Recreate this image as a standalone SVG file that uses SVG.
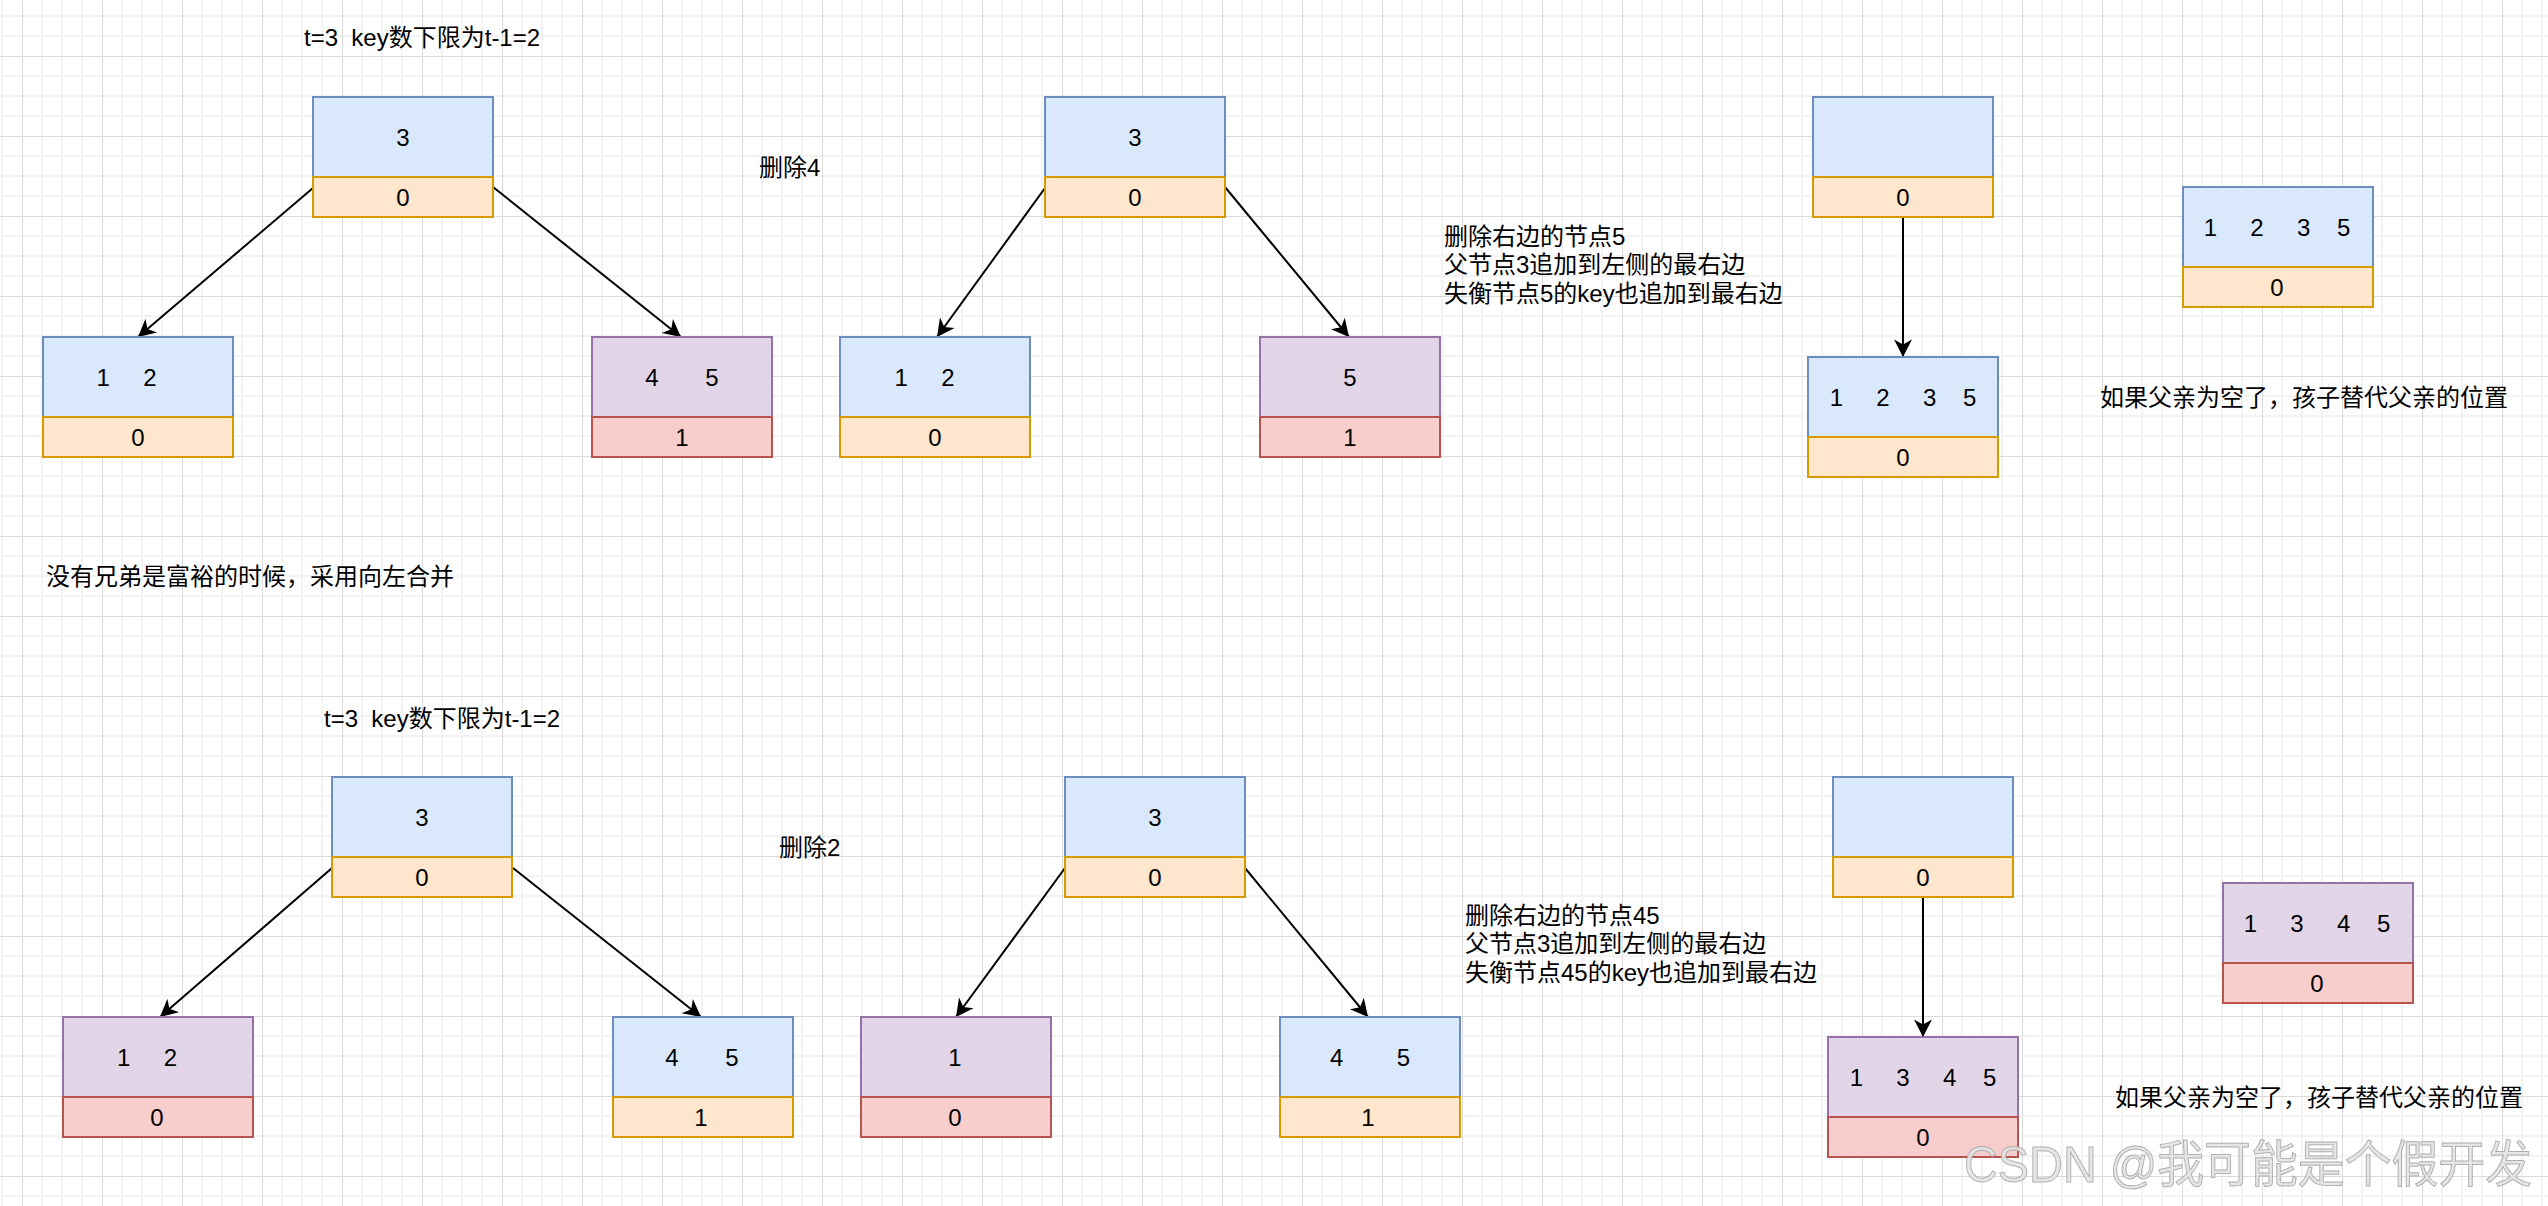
<svg xmlns="http://www.w3.org/2000/svg" width="2548" height="1206" viewBox="0 0 2548 1206">
<style>
text{font-family:"Liberation Sans","Noto Sans CJK SC",sans-serif;font-size:24px;fill:#000;white-space:pre}
.c{text-anchor:middle}
.blue{fill:#dae8fc;stroke:#6c8ebf;stroke-width:2}
.org{fill:#ffe6cc;stroke:#d79b00;stroke-width:2}
.pur{fill:#e1d5e7;stroke:#9673a6;stroke-width:2}
.red{fill:#f8cecc;stroke:#b85450;stroke-width:2}
.edge{fill:none;stroke:#000;stroke-width:2;marker-end:url(#arr)}
.wm{font-size:50px;fill:#e4e4e4;stroke:#a8a8a8;stroke-width:1;opacity:0.9}
</style>
<defs>
<pattern id="grid" x="22" y="56" width="80" height="80" patternUnits="userSpaceOnUse">
<path d="M20,0V80M40,0V80M60,0V80M0,20H80M0,40H80M0,60H80" stroke="#f3f3f3" stroke-width="2" fill="none"/>
<path d="M0.5,0V80M0,0.5H80" stroke="#dadada" stroke-width="1" fill="none"/>
</pattern>
<marker id="arr" markerUnits="userSpaceOnUse" viewBox="-18 -10 19 20" refX="0" refY="0" markerWidth="19" markerHeight="20" orient="auto">
<path d="M0,0 L-17.5,-9 L-12.5,0 L-17.5,9 Z" fill="#000"/>
</marker>
</defs>
<rect width="2548" height="1206" fill="#fff"/>
<rect width="2548" height="1206" fill="url(#grid)"/>

<g id="connectors">
<path class="edge" d="M313,188 L138,337"/>
<path class="edge" d="M493,187 L681,337"/>
<path class="edge" d="M1045,188 L937,337"/>
<path class="edge" d="M1225,187 L1349,337"/>
<path class="edge" d="M1903,217 L1903,357"/>
<path class="edge" d="M332,868 L160,1017"/>
<path class="edge" d="M513,868 L701,1017"/>
<path class="edge" d="M1065,868 L956,1017"/>
<path class="edge" d="M1245,868 L1368,1017"/>
<path class="edge" d="M1923,897 L1923,1037"/>
</g>

<g id="labels">
<text x="304" y="46">t=3  key数下限为t-1=2</text>
<text x="759" y="176">删除4</text>
<text x="1444" y="245">删除右边的节点5<tspan x="1444" dy="28.3">父节点3追加到左侧的最右边</tspan><tspan x="1444" dy="28.3">失衡节点5的key也追加到最右边</tspan></text>
<text x="2100" y="406">如果父亲为空了，孩子替代父亲的位置</text>
<text x="46" y="585">没有兄弟是富裕的时候，采用向左合并</text>
<text x="324" y="727">t=3  key数下限为t-1=2</text>
<text x="779" y="856">删除2</text>
<text x="1465" y="924">删除右边的节点45<tspan x="1465" dy="28.3">父节点3追加到左侧的最右边</tspan><tspan x="1465" dy="28.3">失衡节点45的key也追加到最右边</tspan></text>
<text x="2115" y="1106">如果父亲为空了，孩子替代父亲的位置</text>
</g>

<g id="p1-root"><rect class="blue" x="313" y="97" width="180" height="80"/><rect class="org" x="313" y="177" width="180" height="40"/><text class="c" x="403" y="146">3</text><text class="c" x="403" y="206">0</text></g>
<g id="p1-left"><rect class="blue" x="43" y="337" width="190" height="80"/><rect class="org" x="43" y="417" width="190" height="40"/><text class="c" x="126.5" y="386">1     2</text><text class="c" x="138" y="446">0</text></g>
<g id="p1-right"><rect class="pur" x="592" y="337" width="180" height="80"/><rect class="red" x="592" y="417" width="180" height="40"/><text class="c" x="682" y="386">4       5</text><text class="c" x="682" y="446">1</text></g>

<g id="p2-root"><rect class="blue" x="1045" y="97" width="180" height="80"/><rect class="org" x="1045" y="177" width="180" height="40"/><text class="c" x="1135" y="146">3</text><text class="c" x="1135" y="206">0</text></g>
<g id="p2-left"><rect class="blue" x="840" y="337" width="190" height="80"/><rect class="org" x="840" y="417" width="190" height="40"/><text class="c" x="924.5" y="386">1     2</text><text class="c" x="935" y="446">0</text></g>
<g id="p2-right"><rect class="pur" x="1260" y="337" width="180" height="80"/><rect class="red" x="1260" y="417" width="180" height="40"/><text class="c" x="1350" y="386">5</text><text class="c" x="1350" y="446">1</text></g>

<g id="p3-top"><rect class="blue" x="1813" y="97" width="180" height="80"/><rect class="org" x="1813" y="177" width="180" height="40"/><text class="c" x="1903" y="206">0</text></g>
<g id="p3-bottom"><rect class="blue" x="1808" y="357" width="190" height="80"/><rect class="org" x="1808" y="437" width="190" height="40"/><text class="c" x="1903" y="406">1     2     3    5</text><text class="c" x="1903" y="466">0</text></g>
<g id="p3-result"><rect class="blue" x="2183" y="187" width="190" height="80"/><rect class="org" x="2183" y="267" width="190" height="40"/><text class="c" x="2277" y="236">1     2     3    5</text><text class="c" x="2277" y="296">0</text></g>

<g id="p4-root"><rect class="blue" x="332" y="777" width="180" height="80"/><rect class="org" x="332" y="857" width="180" height="40"/><text class="c" x="422" y="826">3</text><text class="c" x="422" y="886">0</text></g>
<g id="p4-left"><rect class="pur" x="63" y="1017" width="190" height="80"/><rect class="red" x="63" y="1097" width="190" height="40"/><text class="c" x="147" y="1066">1     2</text><text class="c" x="157" y="1126">0</text></g>
<g id="p4-right"><rect class="blue" x="613" y="1017" width="180" height="80"/><rect class="org" x="613" y="1097" width="180" height="40"/><text class="c" x="702" y="1066">4       5</text><text class="c" x="701" y="1126">1</text></g>

<g id="p5-root"><rect class="blue" x="1065" y="777" width="180" height="80"/><rect class="org" x="1065" y="857" width="180" height="40"/><text class="c" x="1155" y="826">3</text><text class="c" x="1155" y="886">0</text></g>
<g id="p5-left"><rect class="pur" x="861" y="1017" width="190" height="80"/><rect class="red" x="861" y="1097" width="190" height="40"/><text class="c" x="955" y="1066">1</text><text class="c" x="955" y="1126">0</text></g>
<g id="p5-right"><rect class="blue" x="1280" y="1017" width="180" height="80"/><rect class="org" x="1280" y="1097" width="180" height="40"/><text class="c" x="1370" y="1066">4        5</text><text class="c" x="1368" y="1126">1</text></g>

<g id="p6-top"><rect class="blue" x="1833" y="777" width="180" height="80"/><rect class="org" x="1833" y="857" width="180" height="40"/><text class="c" x="1923" y="886">0</text></g>
<g id="p6-bottom"><rect class="pur" x="1828" y="1037" width="190" height="80"/><rect class="red" x="1828" y="1117" width="190" height="40"/><text class="c" x="1923" y="1086">1     3     4    5</text><text class="c" x="1923" y="1146">0</text></g>
<g id="p6-result"><rect class="pur" x="2223" y="883" width="190" height="80"/><rect class="red" x="2223" y="963" width="190" height="40"/><text class="c" x="2317" y="932">1     3     4    5</text><text class="c" x="2317" y="992">0</text></g>

<text class="wm" x="1964" y="1182" textLength="568" lengthAdjust="spacingAndGlyphs">CSDN @我可能是个假开发</text>
</svg>
